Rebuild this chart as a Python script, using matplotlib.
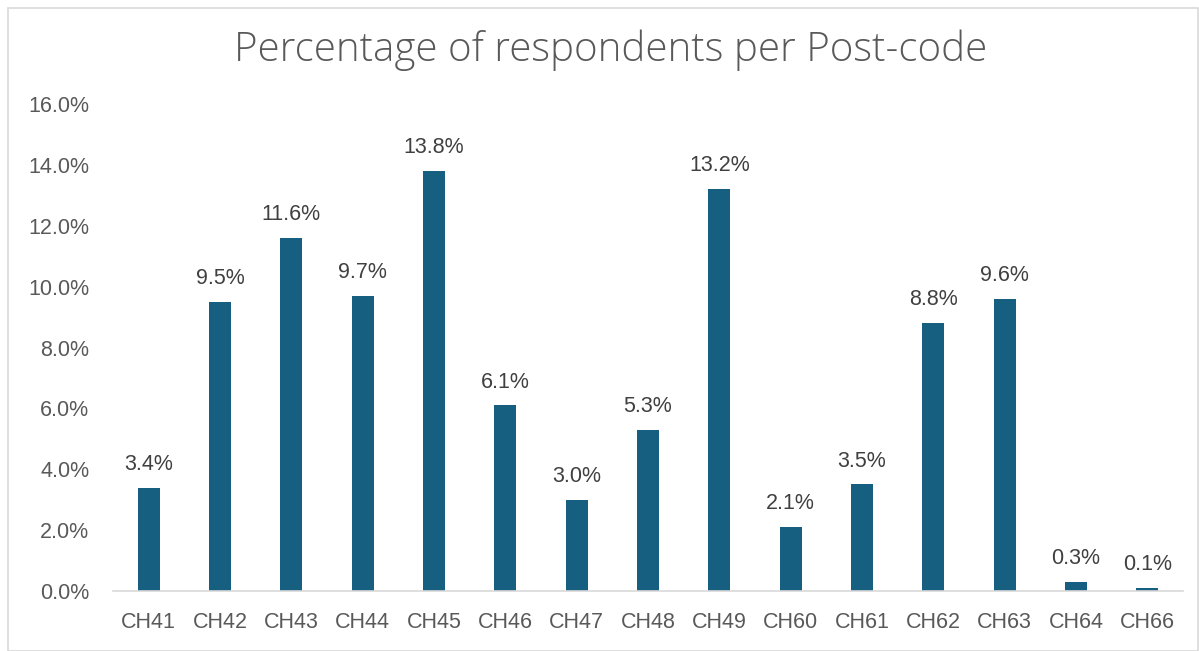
import matplotlib
matplotlib.use("Agg")
import matplotlib.pyplot as plt
from matplotlib.patches import Rectangle

categories = ["CH41", "CH42", "CH43", "CH44", "CH45", "CH46", "CH47", "CH48",
              "CH49", "CH60", "CH61", "CH62", "CH63", "CH64", "CH66"]
values = [3.4, 9.5, 11.6, 9.7, 13.8, 6.1, 3.0, 5.3, 13.2, 2.1, 3.5, 8.8, 9.6, 0.3, 0.1]
yticks = [0, 2, 4, 6, 8, 10, 12, 14, 16]

plt.rcParams['font.family'] = ['Liberation Sans', 'DejaVu Sans']

fig = plt.figure(figsize=(11.99, 6.51), dpi=100)
ax = fig.add_axes([113/1199, 1-591/651, (1183-113)/1199, (591-104)/651])

x = list(range(len(categories)))
bars = ax.bar(x, values, width=0.31, color="#165F81")
for xi, v in zip(x, values):
    ax.text(xi, v + 0.42, f"{v:.1f}%", ha="center", va="bottom", fontsize=15.5, color="#404040")

ax.set_xlim(-0.5, len(categories) - 0.5)
ax.set_ylim(0, 16)
ax.set_yticks(yticks)
ax.set_yticklabels([f"{t:.1f}%" for t in yticks], fontsize=15.5, color="#595959")
ax.set_xticks(x)
ax.set_xticklabels(categories, fontsize=15.5, color="#595959")
ax.tick_params(axis="both", length=0)
ax.tick_params(axis="y", pad=17)
ax.tick_params(axis="x", pad=15)
for s in ["top", "right", "left"]:
    ax.spines[s].set_visible(False)
ax.spines["bottom"].set_color("#D9D9D9")
ax.spines["bottom"].set_linewidth(1.2)

fig.text(611/1199, 1-50/651, "Percentage of respondents per Post-code", ha="center", va="center",
         fontsize=29, color="#595959", family=["Open Sans", "DejaVu Sans"], fontweight="light")

fig.patches.append(Rectangle((8/1199, 0), 1 - 8/1199 - 1/1199, 1 - 8/651, transform=fig.transFigure,
                             fill=False, edgecolor="#D9D9D9", linewidth=1.2))

fig.savefig("out.png", dpi=100)
